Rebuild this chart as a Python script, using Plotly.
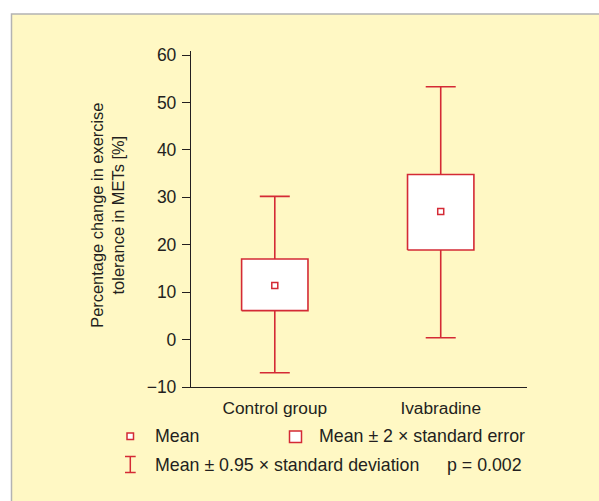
import plotly.graph_objects as go

# ---- data ----
groups = ["Control group", "Ivabradine"]
means = [11.4, 27.0]
se2_low = [6.1, 18.9]      # mean - 2*SE
se2_high = [17.0, 34.8]    # mean + 2*SE
sd_low = [-7.0, 0.4]       # mean - 0.95*SD
sd_high = [30.2, 53.3]     # mean + 0.95*SD
y_ticks = [-10, 0, 10, 20, 30, 40, 50, 60]
p_text = "p = 0.002"

RED = "#d42a35"
YELLOW = "#fff8c4"
TXT = "#231f20"
FONT = "Liberation Sans, Arial, sans-serif"

W, H = 599, 501
L, R, T, B = 191, 72, 51, 114
PW, PH = W - L - R, H - T - B

def px(x):
    return (x - L) / PW

def py(y):
    return (H - B - y) / PH

xs = list(range(len(groups)))
half = 0.2

fig = go.Figure()

# whiskers (mean ± 0.95 SD)
fig.add_trace(go.Scatter(
    x=xs, y=means, mode="markers",
    marker=dict(size=1, color="rgba(0,0,0,0)"),
    error_y=dict(type="data", symmetric=False,
                 array=[h - m for h, m in zip(sd_high, means)],
                 arrayminus=[m - l for m, l in zip(means, sd_low)],
                 color=RED, thickness=1.6, width=15),
    hoverinfo="skip", showlegend=False))

# boxes (mean ± 2 SE)
bx, by = [], []
for i, lo, hi in zip(xs, se2_low, se2_high):
    bx += [i - half, i + half, i + half, i - half, i - half, None]
    by += [lo, lo, hi, hi, lo, None]
fig.add_trace(go.Scatter(
    x=bx, y=by, mode="lines", fill="toself", fillcolor="white",
    line=dict(color=RED, width=1.6), hoverinfo="skip", showlegend=False))

# means
fig.add_trace(go.Scatter(
    x=xs, y=means, mode="markers",
    marker=dict(symbol="square-open", size=6, color=RED, line=dict(width=1.5, color=RED)),
    showlegend=False))

shapes = []
# yellow panel
shapes.append(dict(type="rect", xref="paper", yref="paper", layer="below",
                   x0=px(11.5), x1=px(W + 10), y0=py(14), y1=py(H + 10),
                   fillcolor=YELLOW, line=dict(color="#b3b3b3", width=1.5)))
# legend symbols
shapes.append(dict(type="rect", xref="paper", yref="paper",
                   x0=px(127), x1=px(133.5), y0=py(433), y1=py(439.5),
                   fillcolor="white", line=dict(color=RED, width=1.5)))
shapes.append(dict(type="rect", xref="paper", yref="paper",
                   x0=px(289.5), x1=px(301.5), y0=py(431), y1=py(442.5),
                   fillcolor="white", line=dict(color=RED, width=1.5)))
shapes.append(dict(type="line", xref="paper", yref="paper",
                   x0=px(130.3), x1=px(130.3), y0=py(456.5), y1=py(472.5),
                   line=dict(color=RED, width=1.5)))
for yy in (456.5, 472.5):
    shapes.append(dict(type="line", xref="paper", yref="paper",
                       x0=px(125), x1=px(135.7), y0=py(yy), y1=py(yy),
                       line=dict(color=RED, width=1.5)))

ann = []
ann.append(dict(text="Percentage change in exercise<br>tolerance in METs [%]",
                xref="paper", yref="paper", x=px(106.7), y=py(215),
                xanchor="center", yanchor="middle", textangle=-90,
                showarrow=False, font=dict(size=16.4, color=TXT, family=FONT)))
leg = [("Mean", 153, 436, "left"),
       ("Mean ± 2 × standard error", 317, 436, "left"),
       ("Mean ± 0.95 × standard deviation", 153, 465, "left"),
       (p_text, 524, 465, "right")]
for t, x, y, a in leg:
    ann.append(dict(text=t, xref="paper", yref="paper", x=px(x), y=py(y),
                    xanchor=a, yanchor="middle", showarrow=False,
                    font=dict(size=17.8, color=TXT, family=FONT)))

fig.update_layout(
    width=W, height=H,
    margin=dict(l=L, r=R, t=T, b=B),
    paper_bgcolor="white", plot_bgcolor="white",
    font=dict(family=FONT, color=TXT, size=15),
    shapes=shapes, annotations=ann,
    xaxis=dict(range=[-0.505, 1.52], tickvals=xs, ticktext=groups,
               showline=True, linecolor=TXT, linewidth=1.3, ticks="",
               showgrid=False, zeroline=False, tickfont=dict(size=17.3),
               ticklabelstandoff=5),
    yaxis=dict(range=[-10, 60.85], tickvals=y_ticks,
               showline=True, linecolor=TXT, linewidth=1.3,
               ticks="outside", ticklen=8, tickcolor=TXT, tickwidth=1.2,
               showgrid=False, zeroline=False, tickfont=dict(size=17.5),
               ticklabelstandoff=2),
)

fig.write_html("out.html")
